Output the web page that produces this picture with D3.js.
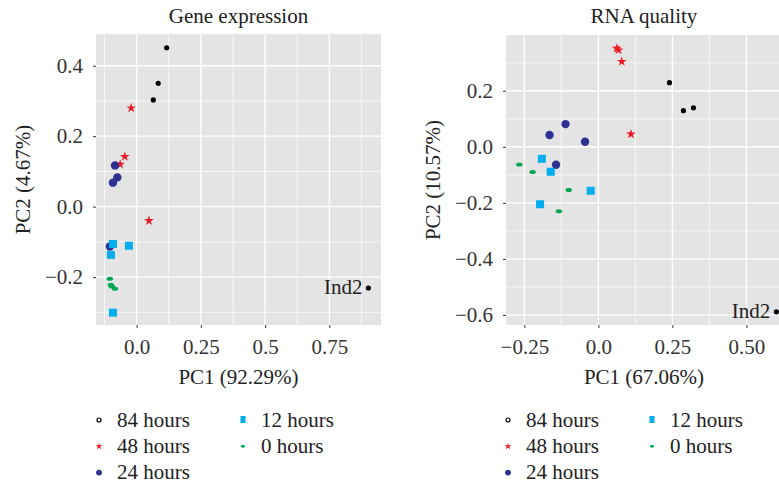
<!DOCTYPE html>
<html lang="en">
<head>
  <meta charset="UTF-8" />
  <script src="https://d3js.org/d3.v7.min.js"></script>
  <title>PCA gene expression / RNA quality</title>
  <style>
    body { margin: 0; background: #fff; }
    .grid-major { stroke: #fff; stroke-width: 1.4; }
    .grid-minor { stroke: #fff; stroke-width: 0.7; }
  </style>
</head>
<body>
  <script>
    // groups, legend order
    var groups = ["84 hours", "48 hours", "24 hours", "12 hours", "0 hours"];
    var colors = ["#000000", "#ed1c24", "#2e3192", "#00aeef", "#00a651"];

    // Gene expression PCA (PC1, PC2)
    var gene84 = [[0.117, 0.451], [0.084, 0.350], [0.065, 0.303], [0.902, -0.231]];
    var gene48 = [[-0.021, 0.280], [-0.046, 0.142], [-0.064, 0.120], [0.048, -0.040]];
    var gene24 = [[-0.084, 0.117], [-0.075, 0.083], [-0.092, 0.068], [-0.104, -0.113]];
    var gene12 = [[-0.092, -0.106], [-0.030, -0.111], [-0.100, -0.137], [-0.092, -0.301]];
    var gene0 = [[-0.104, -0.205], [-0.100, -0.222], [-0.096, -0.227], [-0.084, -0.233]];

    // RNA quality PCA
    var rna84 = [[0.240, 0.229], [0.287, 0.129], [0.321, 0.139], [0.601, -0.589]];
    var rna48 = [[0.062, 0.351], [0.068, 0.345], [0.079, 0.304], [0.110, 0.045]];
    var rna24 = [[-0.165, 0.042], [-0.111, 0.081], [-0.045, 0.018], [-0.143, -0.064]];
    var rna12 = [[-0.191, -0.043], [-0.161, -0.089], [-0.026, -0.157], [-0.197, -0.205]];
    var rna0 = [[-0.267, -0.063], [-0.222, -0.090], [-0.100, -0.154], [-0.133, -0.230]];

    // tick values and labels
    var geneXTicks = [0, 0.25, 0.5, 0.75];
    var geneXLabels = ["0.0", "0.25", "0.5", "0.75"];
    var geneYTicks = [-0.2, 0, 0.2, 0.4];
    var geneYLabels = ["\u22120.2", "0.0", "0.2", "0.4"];
    var geneXMinor = [-0.125, 0.125, 0.375, 0.625, 0.875];
    var geneYMinor = [-0.3, -0.1, 0.1, 0.3];

    var rnaXTicks = [-0.25, 0, 0.25, 0.5];
    var rnaXLabels = ["\u22120.25", "0.0", "0.25", "0.50"];
    var rnaYTicks = [-0.6, -0.4, -0.2, 0, 0.2];
    var rnaYLabels = ["\u22120.6", "\u22120.4", "\u22120.2", "0.0", "0.2"];
    var rnaXMinor = [-0.125, 0.125, 0.375];
    var rnaYMinor = [-0.5, -0.3, -0.1, 0.1, 0.3];

    var panels = [
      {
        title: "Gene expression", xTitle: "PC1 (92.29%)", yTitle: "PC2 (4.67%)",
        series: [gene84, gene48, gene24, gene12, gene0],
        xDomain: [-0.158, 0.951], yDomain: [-0.336, 0.49],
        xTicks: geneXTicks, xLabels: geneXLabels, yTicks: geneYTicks, yLabels: geneYLabels,
        xMinor: geneXMinor, yMinor: geneYMinor,
        box: { x0: 96, x1: 381, y0: 34, y1: 325 }, yTitleX: 30, legendX: 99
      },
      {
        title: "RNA quality", xTitle: "PC1 (67.06%)", yTitle: "PC2 (10.57%)",
        series: [rna84, rna48, rna24, rna12, rna0],
        xDomain: [-0.312, 0.62], yDomain: [-0.636, 0.399],
        xTicks: rnaXTicks, xLabels: rnaXLabels, yTicks: rnaYTicks, yLabels: rnaYLabels,
        xMinor: rnaXMinor, yMinor: rnaYMinor,
        box: { x0: 506, x1: 782, y0: 35, y1: 325 }, yTitleX: 440, legendX: 508
      }
    ];

    var width = 779, height = 485;
    var serif = "'Liberation Serif', 'DejaVu Serif', serif";
    var fs = 21;

    var svg = d3.select("body").append("svg")
      .attr("width", width)
      .attr("height", height)
      .attr("font-family", serif);

    // draw one marker of group g at (cx, cy), size factor k
    function marker(sel, g, cx, cy, k) {
      var c = colors[g];
      if (g === 0) {
        sel.append("circle").attr("cx", cx).attr("cy", cy).attr("r", 2.6 * k).attr("fill", c);
      } else if (g === 1) {
        sel.append("path")
          .attr("d", d3.symbol().type(d3.symbolStar).size(30 * k * k)())
          .attr("transform", "translate(" + cx + "," + cy + ")")
          .attr("fill", c);
      } else if (g === 2) {
        sel.append("circle").attr("cx", cx).attr("cy", cy).attr("r", 4.2 * k).attr("fill", c);
      } else if (g === 3) {
        sel.append("rect").attr("x", cx - 4 * k).attr("y", cy - 4 * k)
          .attr("width", 8 * k).attr("height", 8 * k).attr("fill", c);
      } else {
        sel.append("ellipse").attr("cx", cx).attr("cy", cy)
          .attr("rx", 3.2 * k).attr("ry", 2 * k).attr("fill", c);
      }
    }

    panels.forEach(function (p) {
      var b = p.box;
      var x = d3.scaleLinear().domain(p.xDomain).range([b.x0, b.x1]);
      var y = d3.scaleLinear().domain(p.yDomain).range([b.y1, b.y0]);
      var cx = (b.x0 + b.x1) / 2, cy = (b.y0 + b.y1) / 2;

      svg.append("rect")
        .attr("x", b.x0).attr("y", b.y0)
        .attr("width", b.x1 - b.x0).attr("height", b.y1 - b.y0)
        .attr("fill", "#e4e4e4");

      var grid = svg.append("g");
      grid.selectAll(".vx").data(p.xMinor).enter().append("line")
        .attr("class", "grid-minor")
        .attr("x1", d => x(d)).attr("x2", d => x(d)).attr("y1", b.y0).attr("y2", b.y1);
      grid.selectAll(".hy").data(p.yMinor).enter().append("line")
        .attr("class", "grid-minor")
        .attr("y1", d => y(d)).attr("y2", d => y(d)).attr("x1", b.x0).attr("x2", b.x1);
      grid.selectAll(".vX").data(p.xTicks).enter().append("line")
        .attr("class", "grid-major")
        .attr("x1", d => x(d)).attr("x2", d => x(d)).attr("y1", b.y0).attr("y2", b.y1);
      grid.selectAll(".hY").data(p.yTicks).enter().append("line")
        .attr("class", "grid-major")
        .attr("y1", d => y(d)).attr("y2", d => y(d)).attr("x1", b.x0).attr("x2", b.x1);

      var xAxis = d3.axisBottom(x).tickValues(p.xTicks).tickSize(3).tickPadding(11)
        .tickFormat((d, i) => p.xLabels[i]);
      var yAxis = d3.axisLeft(y).tickValues(p.yTicks).tickSize(3).tickPadding(10)
        .tickFormat((d, i) => p.yLabels[i]);

      function styleAxis(g) {
        g.attr("font-family", serif).attr("font-size", fs);
        g.select(".domain").remove();
        g.selectAll(".tick line").attr("stroke", "#333");
        g.selectAll(".tick text").attr("fill", "#333");
      }
      svg.append("g").attr("transform", "translate(0," + b.y1 + ")").call(xAxis).call(styleAxis);
      svg.append("g").attr("transform", "translate(" + b.x0 + ",0)").call(yAxis).call(styleAxis);

      // points
      var pts = svg.append("g");
      p.series.forEach(function (s, g) {
        s.forEach(function (d) { marker(pts, g, x(d[0]), y(d[1]), 1); });
      });

      // Ind2 label, last point of the 84 hours series
      var ind = p.series[0][p.series[0].length - 1];
      svg.append("text")
        .attr("x", x(ind[0]) - 6).attr("y", y(ind[1]) + 6)
        .attr("text-anchor", "end")
        .attr("font-size", fs).attr("fill", "#222")
        .text("Ind2");

      // titles
      svg.append("text").attr("x", cx).attr("y", 23)
        .attr("text-anchor", "middle").attr("font-size", fs).attr("fill", "#222").text(p.title);
      svg.append("text").attr("x", cx).attr("y", 384)
        .attr("text-anchor", "middle").attr("font-size", fs).attr("fill", "#222").text(p.xTitle);
      svg.append("text")
        .attr("transform", "translate(" + p.yTitleX + "," + cy + ") rotate(-90)")
        .attr("text-anchor", "middle").attr("font-size", fs).attr("fill", "#222").text(p.yTitle);

      // legend, two columns
      var lg = svg.append("g");
      groups.forEach(function (name, g) {
        var col = g < 3 ? 0 : 1, row = g < 3 ? g : g - 3;
        var lx = p.legendX + col * 144, ly = 420 + row * 26.3;
        if (g === 0) {
          lg.append("circle").attr("cx", lx).attr("cy", ly).attr("r", 2)
            .attr("fill", "#fff").attr("stroke", "#000").attr("stroke-width", 1.2);
        } else if (g === 3) {
          lg.append("rect").attr("x", lx - 2.5).attr("y", ly - 4).attr("width", 5).attr("height", 7)
            .attr("fill", colors[g]);
        } else {
          marker(lg, g, lx, ly, 0.7);
        }
        lg.append("text").attr("x", lx + 18).attr("y", ly + 6.5)
          .attr("font-size", fs).attr("fill", "#222").text(name);
      });
    });
  </script>
</body>
</html>
